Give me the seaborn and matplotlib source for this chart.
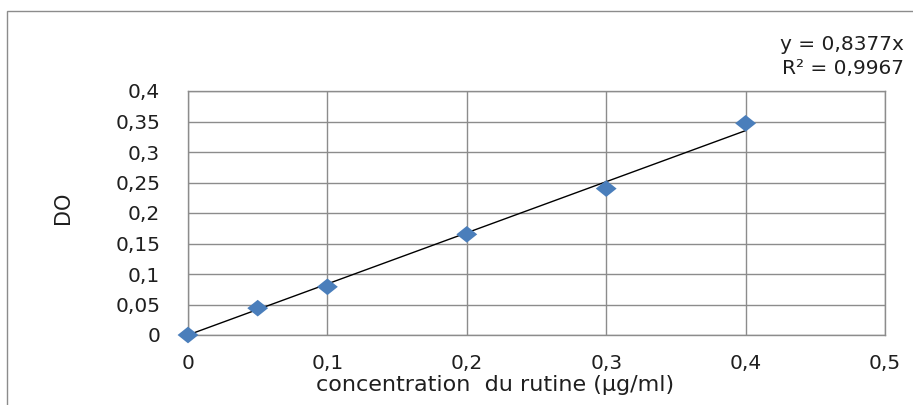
import matplotlib
matplotlib.use("Agg")
import matplotlib.pyplot as plt
from matplotlib.patches import Rectangle
import numpy as np
import pandas as pd
import seaborn as sns

# Calibration data: rutin concentration vs optical density
concentration = [0.0, 0.05, 0.1, 0.2, 0.3, 0.4]
absorbance = [0.0, 0.044, 0.079, 0.165, 0.240, 0.347]

# Linear fit forced through the origin
slope = 0.8377
r_squared = 0.9967

x_ticks = [0, 0.1, 0.2, 0.3, 0.4, 0.5]
x_tick_labels = ["0", "0,1", "0,2", "0,3", "0,4", "0,5"]
y_ticks = [0, 0.05, 0.1, 0.15, 0.2, 0.25, 0.3, 0.35, 0.4]
y_tick_labels = ["0", "0,05", "0,1", "0,15", "0,2", "0,25", "0,3", "0,35", "0,4"]

sns.set_theme(style="white")
plt.rcParams["font.family"] = ["DejaVu Sans"]

TEXT = "#1f1f1f"
W, H = 913, 405
fig = plt.figure(figsize=(W / 100, H / 100), dpi=100)
fig.patch.set_facecolor("white")

# Outer chart frame (top and left edges visible)
fig.patches.append(Rectangle((7 / W, -0.1), 1.2, 1 - 11 / H + 0.1,
                             transform=fig.transFigure, fill=False,
                             edgecolor="#8c8c8c", linewidth=1.0))

left, right, top, bottom = 188, 885, 91, 335
ax = fig.add_axes([left / W, 1 - bottom / H, (right - left) / W, (bottom - top) / H])

df = pd.DataFrame({"conc": concentration, "do": absorbance})
trend = pd.DataFrame({"conc": [0.0, max(concentration)]})
trend["do"] = slope * trend["conc"]

sns.lineplot(data=trend, x="conc", y="do", ax=ax, color="black",
             linewidth=1.0, zorder=3)

diamond = [(-1, 0), (0, 0.8), (1, 0), (0, -0.8), (-1, 0)]
sns.scatterplot(data=df, x="conc", y="do", ax=ax, marker=diamond, s=225,
                color="#4a7ebb", edgecolor="none", zorder=4, clip_on=False)

ax.set_xlim(0, 0.5)
ax.set_ylim(0, 0.4)
ax.set_xticks(x_ticks)
ax.set_xticklabels(x_tick_labels)
ax.set_yticks(y_ticks)
ax.set_yticklabels(y_tick_labels)
ax.tick_params(axis="both", length=0, labelsize=14.5, colors=TEXT)
ax.tick_params(axis="y", pad=20)
ax.tick_params(axis="x", pad=14)
ax.grid(True, color="#8c8c8c", linewidth=1.0)
ax.set_axisbelow(True)
for sp in ax.spines.values():
    sp.set_visible(True)
    sp.set_color("#8c8c8c")
    sp.set_linewidth(1.0)
ax.set_xlabel("")
ax.set_ylabel("")

fig.text(495 / W, 1 - 385 / H, "concentration  du rutine (µg/ml)",
         ha="center", va="center", fontsize=16, color=TEXT)
fig.text(63 / W, 1 - 208 / H, "DO", rotation=90, ha="center", va="center",
         fontsize=15, color=TEXT)

eq = f"y = {slope:.4f}x".replace(".", ",")
r2 = f"R² = {r_squared:.4f}".replace(".", ",")
fig.text(904 / W, 1 - 44 / H, eq, ha="right", va="center", fontsize=14.5,
         color=TEXT)
fig.text(904 / W, 1 - 68 / H, r2, ha="right", va="center", fontsize=14.5,
         color=TEXT)

fig.savefig("out.png", dpi=100, facecolor="white")
